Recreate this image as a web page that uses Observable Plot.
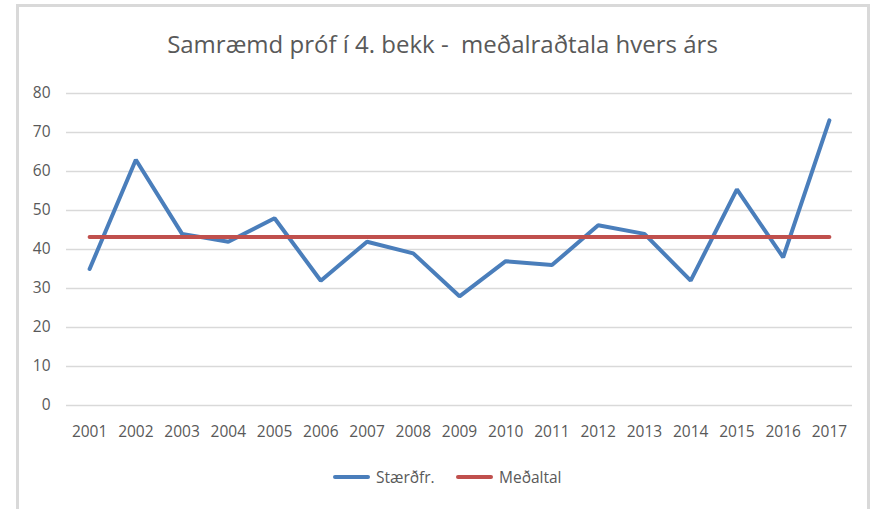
<!DOCTYPE html>
<html>
<head>
<meta charset="utf-8">
<script src="https://cdn.jsdelivr.net/npm/d3@7"></script>
<script src="https://cdn.jsdelivr.net/npm/@observablehq/plot@0.6"></script>
<style>
  html, body { margin: 0; padding: 0; background: #fff; width: 877px; height: 509px; overflow: hidden; }
  #frame { position: absolute; left: 16px; top: 4px; width: 854px; height: 520px; border: 3px solid #d9d9d9; border-bottom: none; box-sizing: border-box; }
  #title { position: absolute; left: 4px; top: 27px; width: 877px; text-align: center; white-space: pre; font-family: "Open Sans", sans-serif; font-size: 24px; color: #595959; }
  #chart { position: absolute; left: 0; top: 70px; }
  #legend { position: absolute; top: 466px; left: 0; width: 877px; font-family: "Open Sans", sans-serif; font-size: 15.5px; color: #595959; }
  .item { position: absolute; display: flex; align-items: center; }
  .swatch { width: 37px; height: 4px; border-radius: 2px; margin-right: 6px; }
</style>
</head>
<body>
<div id="frame"></div>
<div id="title">Samræmd próf í 4. bekk -  meðalraðtala hvers árs</div>
<div id="chart"></div>
<div id="legend"></div>
<script>
const years = [2001,2002,2003,2004,2005,2006,2007,2008,2009,2010,2011,2012,2013,2014,2015,2016,2017];
const staerdfr = [35,63,44,42,48,32,42,39,28,37,36,46.2,44,32,55.4,38,73.1];
const medaltal = 43.2;
const yTicks = [0,10,20,30,40,50,60,70,80];
const seriesNames = ["Stærðfr.", "Meðaltal"];
const seriesColors = ["#4a7ebb", "#c0504d"];

const data = years.map((y, i) => ({year: y, value: staerdfr[i]}));
const meanData = years.map(y => ({year: y, value: medaltal}));

const plot = Plot.plot({
  width: 877,
  height: 380,
  marginLeft: 66,
  marginRight: 25,
  marginTop: 23,
  marginBottom: 45,
  style: { fontFamily: "Open Sans, sans-serif", fontSize: "15.5px", color: "#595959", background: "transparent" },
  x: { type: "linear", domain: [2000.5, 2017.5], ticks: years, tickFormat: d => String(d), tickSize: 0, tickPadding: 20, label: null },
  y: { domain: [0, 80], ticks: yTicks, tickSize: 0, tickPadding: 16, label: null, grid: true },
  marks: [
    Plot.gridY(yTicks, { stroke: "#d9d9d9", strokeOpacity: 1, strokeWidth: 1.3 }),
    Plot.axisX({ ticks: years, tickFormat: d => String(d), tickSize: 0, tickPadding: 20, fill: "#595959", fontSize: "15.5px" }),
    Plot.axisY({ ticks: yTicks, tickSize: 0, tickPadding: 16, fill: "#595959", fontSize: "15.5px" }),
    Plot.line(data, { x: "year", y: "value", stroke: seriesColors[0], strokeWidth: 4, strokeLinejoin: "miter", strokeLinecap: "round" }),
    Plot.line(meanData, { x: "year", y: "value", stroke: seriesColors[1], strokeWidth: 4, strokeLinecap: "round" })
  ]
});
document.getElementById("chart").appendChild(plot);

const legend = document.getElementById("legend");
const lefts = [333, 456];
seriesNames.forEach((name, i) => {
  const item = document.createElement("div");
  item.className = "item";
  item.style.left = lefts[i] + "px";
  const sw = document.createElement("div");
  sw.className = "swatch";
  sw.style.background = seriesColors[i];
  const t = document.createElement("span");
  t.textContent = name;
  item.appendChild(sw);
  item.appendChild(t);
  legend.appendChild(item);
});
</script>
</body>
</html>
